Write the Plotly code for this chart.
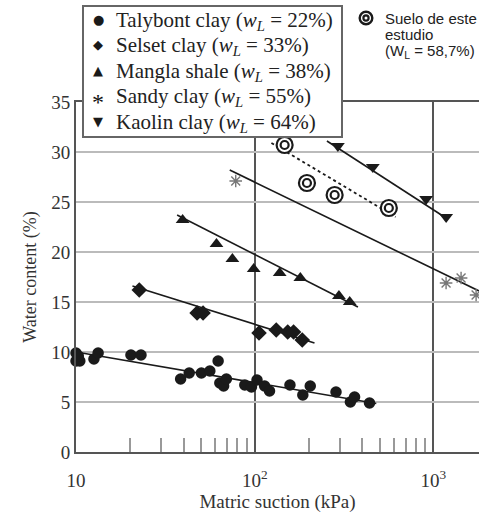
import plotly.graph_objects as go

# ---------------- data ----------------
talybont_x = [10.0, 10.0, 10.5, 10.3, 12.6, 13.3, 20.3, 23.1, 38.5, 43.0, 50.3, 56.1, 62.4, 63.8,
              67.0, 69.4, 88.0, 95.9, 103, 113.6, 121, 157.5, 185.8, 204.5, 285, 343, 362, 439]
talybont_y = [9.9, 9.1, 9.1, 9.6, 9.3, 9.9, 9.7, 9.7, 7.3, 7.9, 7.9, 8.1, 9.1, 6.9,
              6.6, 7.3, 6.7, 6.5, 7.2, 6.6, 6.1, 6.7, 5.7, 6.6, 6.0, 5.0, 5.5, 4.9]
talybont_fit_x = [10.0, 479]
talybont_fit_y = [10.0, 4.85]

selset_x = [22.6, 47.6, 51.4, 105.7, 132, 153, 165, 184.5]
selset_y = [16.2, 13.9, 13.9, 11.9, 12.2, 12.0, 12.0, 11.2]
selset_fit_x = [20.7, 216]
selset_fit_y = [16.6, 10.9]

mangla_x = [39.5, 61.1, 75, 98.7, 138, 180, 296, 340]
mangla_y = [23.2, 20.8, 19.3, 18.3, 17.9, 17.4, 15.6, 15.0]
mangla_fit_x = [36.8, 378]
mangla_fit_y = [23.7, 14.5]

sandy_x = [78.3, 1177, 1428, 1733]
sandy_y = [27.1, 16.9, 17.4, 15.7]
sandy_fit_x = [72.5, 1800]
sandy_fit_y = [28.2, 16.1]

kaolin_x = [292, 458, 910, 1178]
kaolin_y = [30.6, 28.5, 25.3, 23.5]
kaolin_fit_x = [253.6, 1200]
kaolin_fit_y = [31.1, 23.3]

suelo_x = [147, 196, 280, 563]
suelo_y = [30.7, 26.9, 25.7, 24.4]
suelo_fit_x = [124, 614]
suelo_fit_y = [30.9, 23.5]

legend_names = [
    "Talybont clay (<i>w<sub>L</sub></i> = 22%)",
    "Selset clay (<i>w<sub>L</sub></i> = 33%)",
    "Mangla shale (<i>w<sub>L</sub></i> = 38%)",
    "Sandy clay (<i>w<sub>L</sub></i> = 55%)",
    "Kaolin clay (<i>w<sub>L</sub></i> = 64%)",
]
legend_glyphs = ["●", "◆", "▲", "*", "▼"]
suelo_label_lines = ["Suelo de este", "estudio", "(W<sub>L</sub> = 58,7%)"]

x_tickvals = [10, 100, 1000]
x_ticktext = ["10", "10<sup>2</sup>", "10<sup>3</sup>"]
x_minor = [20, 30, 40, 50, 60, 70, 80, 90, 200, 300, 400, 500, 600, 700, 800, 900]
y_tickvals = [0, 5, 10, 15, 20, 25, 30, 35]

# ---------------- layout helpers (pixel -> paper) ----------------
ML, MT, MB, W, H = 76, 102, 63, 479, 515
PW, PH = W - ML, H - MT - MB


def px(x):
    return (x - ML) / PW


def py(y):
    return (H - MB - y) / PH


INK = "#1a1a1a"
SERIF = "Liberation Serif"
fig = go.Figure()

# regression lines
for fx, fy in [(talybont_fit_x, talybont_fit_y), (selset_fit_x, selset_fit_y),
               (mangla_fit_x, mangla_fit_y), (sandy_fit_x, sandy_fit_y),
               (kaolin_fit_x, kaolin_fit_y)]:
    fig.add_trace(go.Scatter(x=fx, y=fy, mode="lines", showlegend=False,
                             line=dict(color=INK, width=1.6), hoverinfo="skip"))
fig.add_trace(go.Scatter(x=suelo_fit_x, y=suelo_fit_y, mode="lines", showlegend=False,
                         line=dict(color=INK, width=1.8, dash="dot"), hoverinfo="skip"))

series = [
    (talybont_x, talybont_y, "circle", 11.5, INK),
    (selset_x, selset_y, "diamond", 12, INK),
    (mangla_x, mangla_y, "triangle-up", 12, INK),
    (sandy_x, sandy_y, "asterisk-open", 10.5, "#777"),
    (kaolin_x, kaolin_y, "triangle-down", 12, INK),
]
for (sx, sy, sym, sz, col), name in zip(series, legend_names):
    mk = dict(symbol=sym, size=sz, color=col)
    if sym == "asterisk-open":
        mk["line"] = dict(color=col, width=1.4)
    fig.add_trace(go.Scatter(x=sx, y=sy, mode="markers", name=name, marker=mk,
                             cliponaxis=False, showlegend=False))

# this study's soil: double circles
fig.add_trace(go.Scatter(x=suelo_x, y=suelo_y, mode="markers", showlegend=False,
                         name="Suelo de este estudio",
                         marker=dict(symbol="circle", size=16, color="white",
                                     line=dict(color=INK, width=2.2))))
fig.add_trace(go.Scatter(x=suelo_x, y=suelo_y, mode="markers", showlegend=False,
                         marker=dict(symbol="circle-open", size=8, color=INK,
                                     line=dict(color=INK, width=2.2))))

# legend box (drawn as text entries inside a framed box)
fig.add_shape(type="rect", xref="paper", yref="paper",
              x0=px(83), x1=px(342), y0=py(137), y1=py(6),
              fillcolor="white", line=dict(color="#666", width=2), layer="above")
for i, (g, name) in enumerate(zip(legend_glyphs, legend_names)):
    yc = 21 + 25.5 * i
    if g == "*":
        fig.add_annotation(xref="paper", yref="paper", x=px(98), y=py(yc + 4), text=g,
                           showarrow=False, xanchor="center", yanchor="middle",
                           font=dict(family=SERIF, size=24, color="#111"))
    else:
        fig.add_annotation(xref="paper", yref="paper", x=px(98), y=py(yc - 2), text=g,
                           showarrow=False, xanchor="center", yanchor="middle",
                           font=dict(family="DejaVu Sans", size=13, color=INK))
    fig.add_annotation(xref="paper", yref="paper", x=px(114), y=py(yc), text=name,
                       showarrow=False, xanchor="left", yanchor="middle",
                       font=dict(family=SERIF, size=21, color="#222"))

# "this study" key: double-ring symbol
for r, lw in [(6.3, 2.4), (2.6, 2.2)]:
    fig.add_shape(type="circle", xref="paper", yref="paper",
                  xsizemode="pixel", ysizemode="pixel",
                  xanchor=px(366), yanchor=py(18),
                  x0=-r, x1=r, y0=-r, y1=r,
                  line=dict(color=INK, width=lw), fillcolor="rgba(0,0,0,0)",
                  layer="above")
for i, line in enumerate(suelo_label_lines):
    fig.add_annotation(xref="paper", yref="paper", x=px(383), y=py(18 + 16.5 * i),
                       text=line, showarrow=False, xanchor="left", yanchor="middle",
                       font=dict(family="Liberation Sans", size=15, color="#222"))

fig.update_layout(
    width=W, height=H,
    margin=dict(l=ML, r=0, t=MT, b=MB),
    paper_bgcolor="white", plot_bgcolor="white",
    showlegend=False,
    xaxis=dict(type="log", range=[1, 3.255],
               tickvals=x_tickvals, ticktext=x_ticktext, ticks="",
               showgrid=True, gridcolor="#555", gridwidth=1.5,
               showline=True, linecolor="#555", linewidth=2, mirror=True,
               zeroline=False, ticklabelstandoff=10,
               tickfont=dict(family=SERIF, size=19, color="#333"),
               title=dict(text="Matric suction (kPa)", standoff=4,
                          font=dict(family=SERIF, size=19, color="#333")),
               minor=dict(tickvals=x_minor, ticks="inside", ticklen=14,
                          tickcolor="#999", tickwidth=1.5, showgrid=False)),
    yaxis=dict(range=[0, 35], tickvals=y_tickvals, ticks="",
               showgrid=True, gridcolor="#bbb", gridwidth=1.5,
               showline=True, linecolor="#555", linewidth=2,
               zeroline=False,
               tickfont=dict(family=SERIF, size=19, color="#333"),
               title=dict(text="Water content (%)", standoff=10,
                          font=dict(family=SERIF, size=18, color="#333"))),
)

fig.write_html("out.html")
